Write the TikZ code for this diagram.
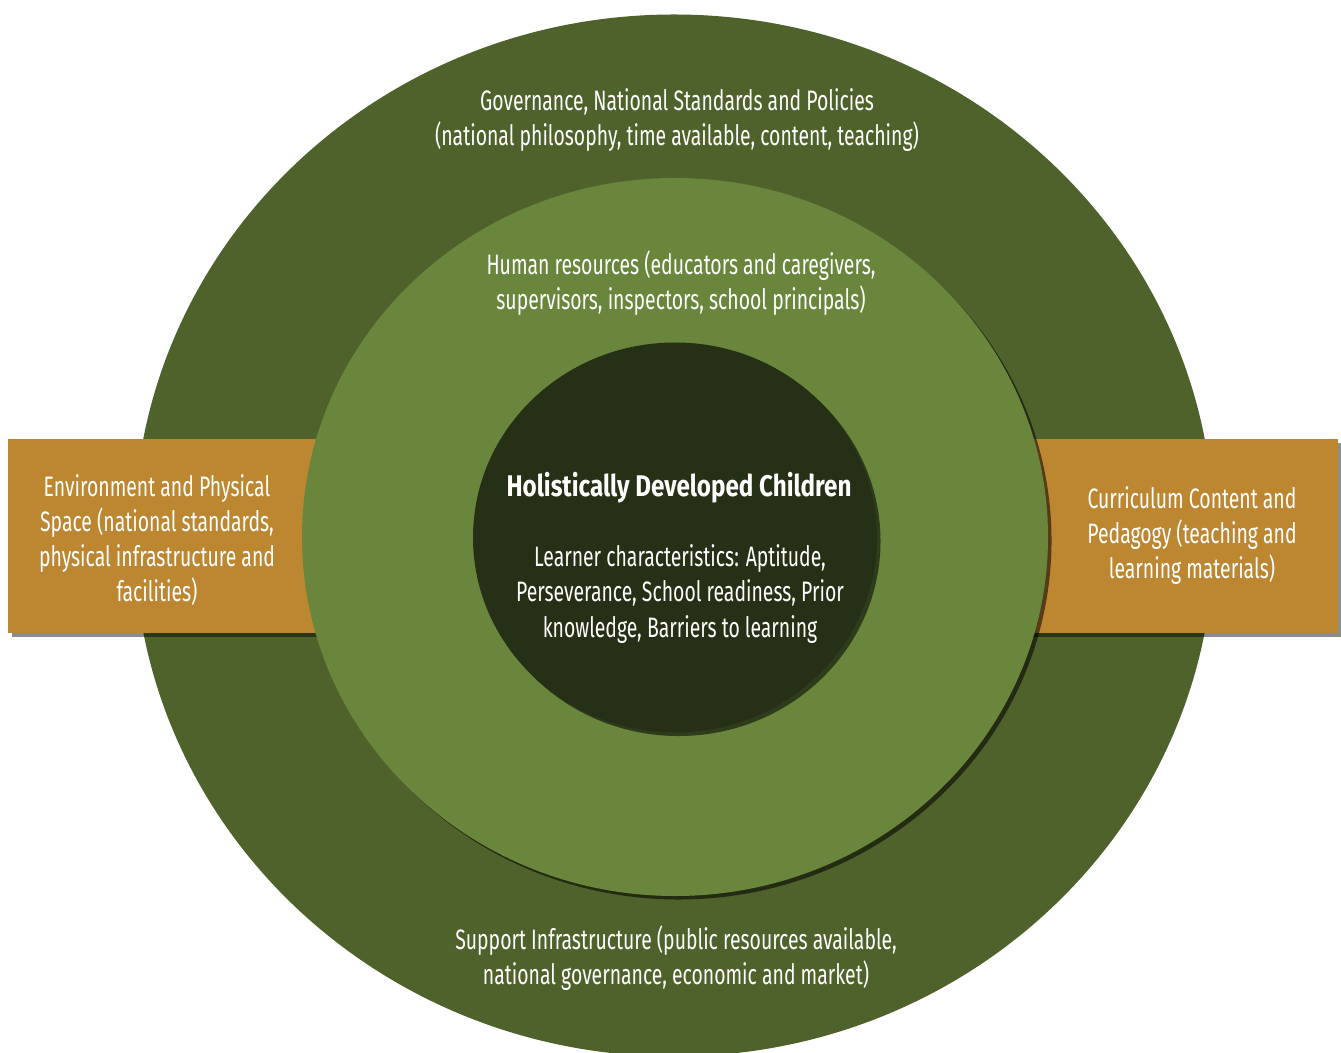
\documentclass[tikz,border=0pt]{standalone}
\usepackage{fontspec}
\setmainfont{Fira Sans}[FakeStretch=0.69]
\newfontfamily\titlefont{Fira Sans}[FakeStretch=0.81]
\usetikzlibrary{shadows}

\definecolor{outergreen}{HTML}{4F622B}
\definecolor{midgreen}{HTML}{6A863D}
\definecolor{coregreen}{HTML}{263016}
\definecolor{tabgold}{HTML}{BD8732}

\begin{document}
\begin{tikzpicture}[x=0.02cm,y=0.02cm]

\tikzstyle{txt} = [text=white, align=center,
	font=\fontsize{16}{20}\selectfont];
\tikzstyle{tab} = [fill=tabgold,
	drop shadow={shadow xshift=2pt, shadow yshift=-2pt, fill=black, opacity=.45}];
\tikzstyle{ring} = [
	drop shadow={shadow xshift=2pt, shadow yshift=-2pt, fill=black, opacity=.55}];
\clip (0,0) rectangle (1341,1052);

% rings and side tabs
\fill[outergreen] (674,516.5) ellipse [x radius=540, y radius=521];
\fill[tab] (8,419) rectangle (330,613);
\fill[tab] (1020,419) rectangle (1338,613);
\fill[ring,fill=midgreen] (675,515) ellipse [x radius=373, y radius=359];
\fill[ring,fill=coregreen] (675,514.5) ellipse [x radius=202, y radius=195];

\node[txt] (gov) at (677,932) {Governance, National Standards and Policies\\
	(national philosophy, time available, content, teaching)};
\node[txt] (human) at (681,769) {Human resources (educators and caregivers,\\
	supervisors, inspectors, school principals)};
\node[txt,font=\fontsize{17}{20}\titlefont\bfseries] (child) at (679,564) {Holistically Developed Children};
\node[txt] (learner) at (680,458) {Learner characteristics: Aptitude,\\
	Perseverance, School readiness, Prior\\ knowledge, Barriers to learning};
\node[txt] (env) at (157,512) {Environment and Physical\\
	Space (national standards,\\ physical infrastructure and\\ facilities)};
\node[txt] (curr) at (1192,516.5) {Curriculum Content and\\
	Pedagogy (teaching and\\ learning materials)};
\node[txt] (support) at (676,94) {Support Infrastructure (public resources available,\\
	national governance, economic and market)};

\end{tikzpicture}
\end{document}
